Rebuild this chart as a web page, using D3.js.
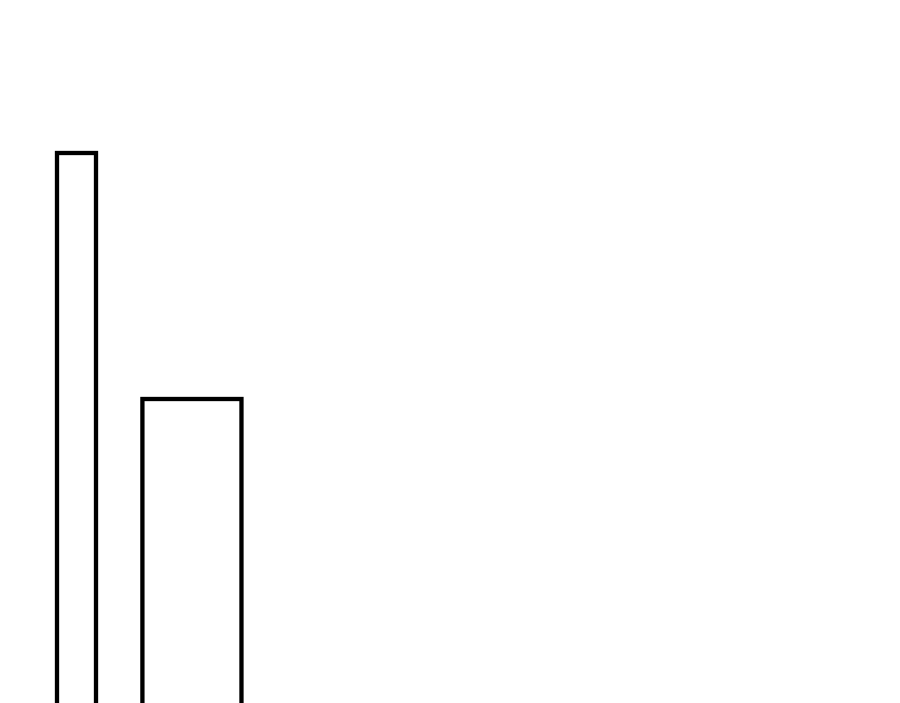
<!DOCTYPE html>
<html>
<head>
<meta charset="utf-8">
<script src="https://cdn.jsdelivr.net/npm/d3@7"></script>
<style>
  html, body { margin: 0; padding: 0; background: #fff; overflow: hidden; }
</style>
</head>
<body>
<div id="chart"></div>
<script>
// bin edges and heights for the two bars
const binStart = [0, 2.19];
const binEnd = [1, 4.73];
const binValue = [100, 60];

const width = 900;
const height = 703;

const x = d3.scaleLinear()
    .domain([0, 1])
    .range([57, 96]);

const y = d3.scaleLinear()
    .domain([0, 100])
    .range([768, 153]);

const svg = d3.select("#chart")
    .append("svg")
    .attr("width", width)
    .attr("height", height);

svg.append("rect")
    .attr("width", width)
    .attr("height", height)
    .attr("fill", "#fff");

const bins = binValue.map((v, i) => ({ x0: binStart[i], x1: binEnd[i], value: v }));

svg.selectAll("rect.bar")
    .data(bins)
    .enter()
    .append("rect")
    .attr("class", "bar")
    .attr("x", d => x(d.x0))
    .attr("y", d => y(d.value))
    .attr("width", d => x(d.x1) - x(d.x0))
    .attr("height", d => y(0) - y(d.value))
    .attr("fill", "#fff")
    .attr("stroke", "#000")
    .attr("stroke-width", 4.3);
</script>
</body>
</html>
